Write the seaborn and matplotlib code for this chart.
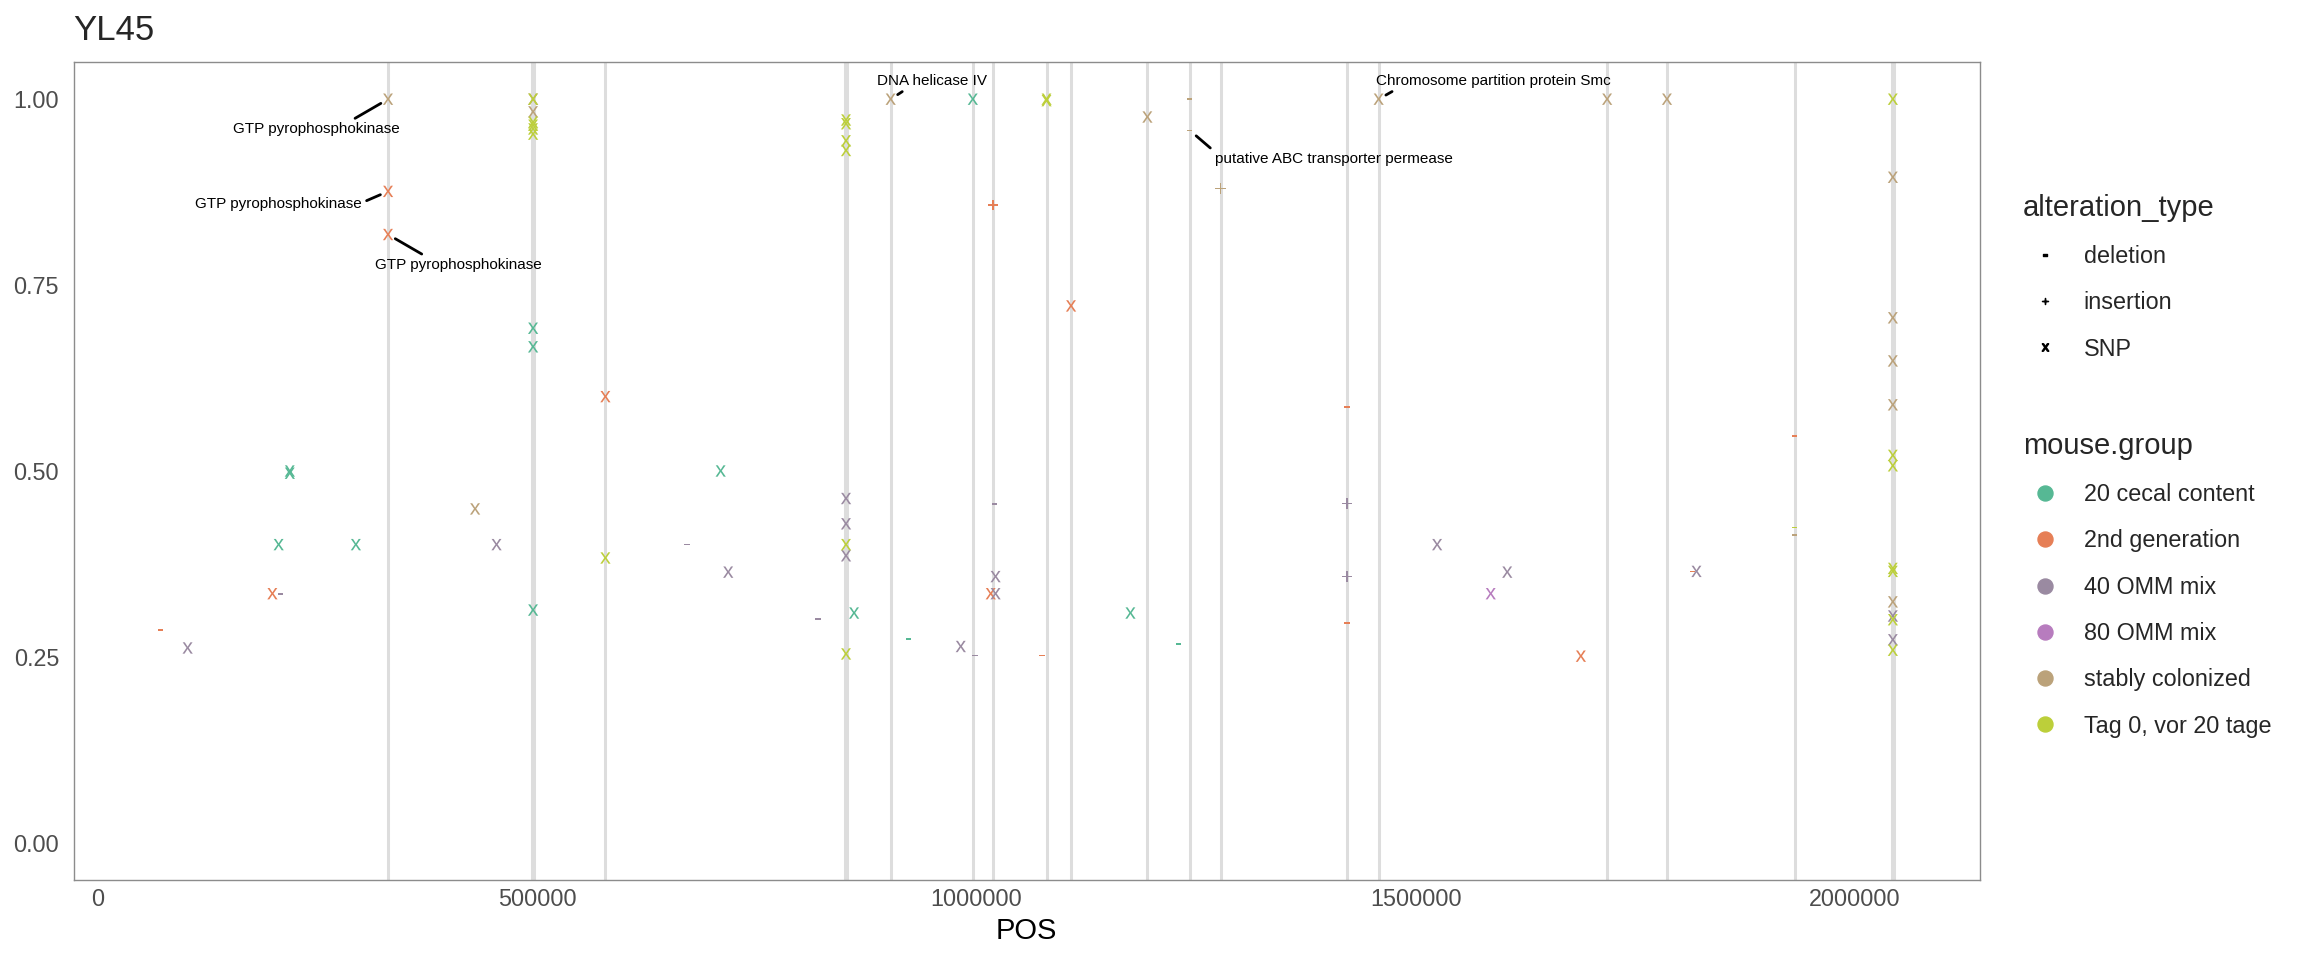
import numpy as np
import pandas as pd
import seaborn as sns
import matplotlib.pyplot as plt
from matplotlib.lines import Line2D
from matplotlib.path import Path
from matplotlib.textpath import TextPath
from matplotlib.font_manager import FontProperties

# --- data (POS, allele frequency, alteration type) ---
cecal_pos = [218500, 218500, 205800, 293700, 495400, 495400, 495400, 708900, 860800, 922700, 995900, 1175300, 1229700]
cecal_freq = [0.500, 0.497, 0.401, 0.401, 0.692, 0.667, 0.313, 0.500, 0.309, 0.274, 1.000, 0.309, 0.267]
cecal_type = ['SNP', 'SNP', 'SNP', 'SNP', 'SNP', 'SNP', 'SNP', 'SNP', 'SNP', 'deletion', 'SNP', 'SNP', 'deletion']

second_pos = [71100, 198700, 330300, 330300, 577700, 1016300, 1018800, 1074700, 1107700, 1421700, 1421700, 1688000, 1815000, 1931400]
second_freq = [0.286, 0.335, 0.876, 0.818, 0.600, 0.335, 0.858, 0.252, 0.722, 0.586, 0.296, 0.251, 0.365, 0.547]
second_type = ['deletion', 'SNP', 'SNP', 'SNP', 'SNP', 'SNP', 'insertion', 'deletion', 'SNP', 'deletion', 'deletion', 'SNP', 'deletion', 'deletion']

omm40_pos = [102200, 207800, 453800, 670500, 717500, 819600, 851600, 851600, 851600, 982200, 998500, 1020300, 1021800, 1021800,
             1421700, 1421700, 1524400, 1604200, 1819600, 2043100, 2043100]
omm40_freq = [0.262, 0.335, 0.401, 0.401, 0.364, 0.301, 0.463, 0.429, 0.386, 0.264, 0.252, 0.456, 0.358, 0.335,
              0.456, 0.358, 0.401, 0.364, 0.365, 0.305, 0.273]
omm40_type = ['SNP', 'deletion', 'SNP', 'deletion', 'SNP', 'deletion', 'SNP', 'SNP', 'SNP', 'SNP', 'deletion', 'deletion', 'SNP', 'SNP',
              'insertion', 'insertion', 'SNP', 'SNP', 'SNP', 'SNP', 'SNP']

omm80_pos = [1585400]
omm80_freq = [0.335]
omm80_type = ['SNP']

stable_pos = [330300, 429400, 495400, 495400, 902400, 1194600, 1242900, 1242900, 1277900, 1457800, 1717900, 1786000, 1931400,
              2043100, 2043100, 2043100, 2043100, 2043100]
stable_freq = [1.000, 0.449, 1.000, 0.983, 1.000, 0.976, 1.000, 0.958, 0.880, 1.000, 1.000, 1.000, 0.414,
               0.895, 0.706, 0.648, 0.589, 0.324]
stable_type = ['SNP', 'SNP', 'SNP', 'SNP', 'SNP', 'SNP', 'deletion', 'deletion', 'insertion', 'SNP', 'SNP', 'SNP', 'deletion',
               'SNP', 'SNP', 'SNP', 'SNP', 'SNP']

tag0_pos = [495400, 495400, 495400, 495400, 495400, 577700, 851600, 851600, 851600, 851600, 851600, 851600, 1079800, 1079800,
            1931400, 2043100, 2043100, 2043100, 2043100, 2043100, 2043100, 2043100]
tag0_freq = [1.000, 0.969, 0.965, 0.960, 0.953, 0.383, 0.972, 0.967, 0.944, 0.931, 0.401, 0.254, 1.000, 0.998,
             0.424, 1.000, 0.521, 0.507, 0.369, 0.365, 0.300, 0.259]
tag0_type = ['SNP'] * 14 + ['deletion'] + ['SNP'] * 7

# recurrent positions marked with grey lines
shared_pos = [330300, 494000, 496800, 577700, 850100, 853100, 902400, 995900, 1018800, 1079800, 1107700, 1194600, 1242900,
              1277900, 1421700, 1457800, 1717900, 1786000, 1931400, 2041600, 2044600]

# gene labels: (POS, freq of labelled point, text)
label_pos = [330300, 330300, 330300, 902400, 1242900, 1457800]
label_freq = [1.000, 0.876, 0.818, 1.000, 0.958, 1.000]
label_text = ['GTP pyrophosphokinase', 'GTP pyrophosphokinase', 'GTP pyrophosphokinase', 'DNA helicase IV',
              'putative ABC transporter permease', 'Chromosome partition protein Smc']
# where the repelled labels ended up, and where their segment leaves the label box
label_xy = [(248900, 0.9595), (205800, 0.859), (410600, 0.777), (948900, 1.025), (1406500, 0.920), (1587900, 1.025)]
label_rel = [(0.69, 1.0), (1.0, 0.6), (0.32, 1.0), (0.29, 0.0), (0.0, 1.0), (0.10, 0.0)]

group_names = ['20 cecal content', '2nd generation', '40 OMM mix', '80 OMM mix', 'stably colonized', 'Tag 0, vor 20 tage']
group_colors = ['#56B894', '#E67F56', '#9A8AA1', '#B77CBE', '#BBA27A', '#BCCF3A']
alt_types = ['deletion', 'insertion', 'SNP']
alt_chars = ['-', '+', 'x']

frames = []
for g, p, f, t in zip(group_names,
                      [cecal_pos, second_pos, omm40_pos, omm80_pos, stable_pos, tag0_pos],
                      [cecal_freq, second_freq, omm40_freq, omm80_freq, stable_freq, tag0_freq],
                      [cecal_type, second_type, omm40_type, omm80_type, stable_type, tag0_type]):
    frames.append(pd.DataFrame({'POS': p, 'freq': f, 'alteration_type': t, 'mouse.group': g}))
df = pd.concat(frames, ignore_index=True)

FONT = 'Liberation Sans'


def glyph(ch):
    # text glyph as marker, padded so that all glyphs share one scale (1 em = markersize)
    tp = TextPath((0, 0), ch, size=1, prop=FontProperties(family=FONT))
    ext = tp.get_extents()
    verts = tp.vertices - [(ext.x0 + ext.x1) / 2, (ext.y0 + ext.y1) / 2]
    verts = np.vstack([verts, [[-0.5, -0.5], [0.5, 0.5]]])
    codes = np.concatenate([tp.codes, [Path.MOVETO, Path.MOVETO]])
    return Path(verts, codes)


markers = {a: glyph(c) for a, c in zip(alt_types, alt_chars)}
palette = dict(zip(group_names, group_colors))

sns.set_style('white')
plt.rcParams['font.family'] = [FONT, 'DejaVu Sans']

fig = plt.figure(figsize=(23.04, 9.6), dpi=100)
ax = fig.add_axes([73.7 / 2304, 1 - 880 / 960, (1979.5 - 73.7) / 2304, (880 - 62) / 960])

for p in shared_pos:
    ax.axvline(p, color='#DDDDDD', lw=2.2, zorder=1)

sns.scatterplot(data=df, x='POS', y='freq', hue='mouse.group', style='alteration_type',
                hue_order=group_names, style_order=alt_types, palette=palette, markers=markers,
                s=240, linewidth=0, legend=False, ax=ax, zorder=3)

for (x, y, t), (tx, ty), rel in zip(zip(label_pos, label_freq, label_text), label_xy, label_rel):
    ax.annotate(t, xy=(x, y), xytext=(tx, ty), ha='center', va='center', fontsize=11, color='black',
                arrowprops=dict(arrowstyle='-', color='black', lw=2, shrinkA=1, shrinkB=6, relpos=rel), zorder=4)

x0, x1 = min(df['POS']), max(df['POS'])
pad = 0.05 * (x1 - x0)
ax.set_xlim(x0 - pad, x1 + pad)
ax.set_ylim(-0.05, 1.05)
ax.set_xticks([0, 500000, 1000000, 1500000, 2000000])
ax.set_xticklabels(['0', '500000', '1000000', '1500000', '2000000'])
ax.set_yticks([0, 0.25, 0.5, 0.75, 1.0])
ax.set_yticklabels(['0.00', '0.25', '0.50', '0.75', '1.00'])
ax.tick_params(length=0, labelsize=16.8, labelcolor='#4D4D4D')
ax.tick_params(axis='x', pad=6)
ax.tick_params(axis='y', pad=10.5)
ax.set_xlabel('POS', fontsize=21, color='black', labelpad=4)
ax.set_ylabel('')
for s in ax.spines.values():
    s.set_visible(True)
    s.set_color('#8C8C8C')
    s.set_linewidth(1.0)

fig.text(73.7 / 2304, 1 - 40 / 960, 'YL45', fontsize=25, ha='left', va='baseline')

alt_handles = [Line2D([], [], marker=markers[a], color='black', linestyle='none', markersize=10) for a in alt_types]
leg1 = fig.legend(alt_handles, alt_types, title='alteration_type', loc='upper left',
                  bbox_to_anchor=(2011 / 2304, 1 - 182 / 960), frameon=False, borderpad=0,
                  alignment='left', fontsize=16.8, title_fontsize=21, handlelength=1.94,
                  handletextpad=0.68, labelspacing=1.0)

grp_handles = [Line2D([], [], marker='o', color=c, linestyle='none', markersize=10.8) for c in group_colors]
leg2 = fig.legend(grp_handles, group_names, title='mouse.group', loc='upper left',
                  bbox_to_anchor=(2011 / 2304, 1 - 420 / 960), frameon=False, borderpad=0,
                  alignment='left', fontsize=16.8, title_fontsize=21, handlelength=1.94,
                  handletextpad=0.68, labelspacing=1.0)

fig.savefig('out.png', dpi=100)
